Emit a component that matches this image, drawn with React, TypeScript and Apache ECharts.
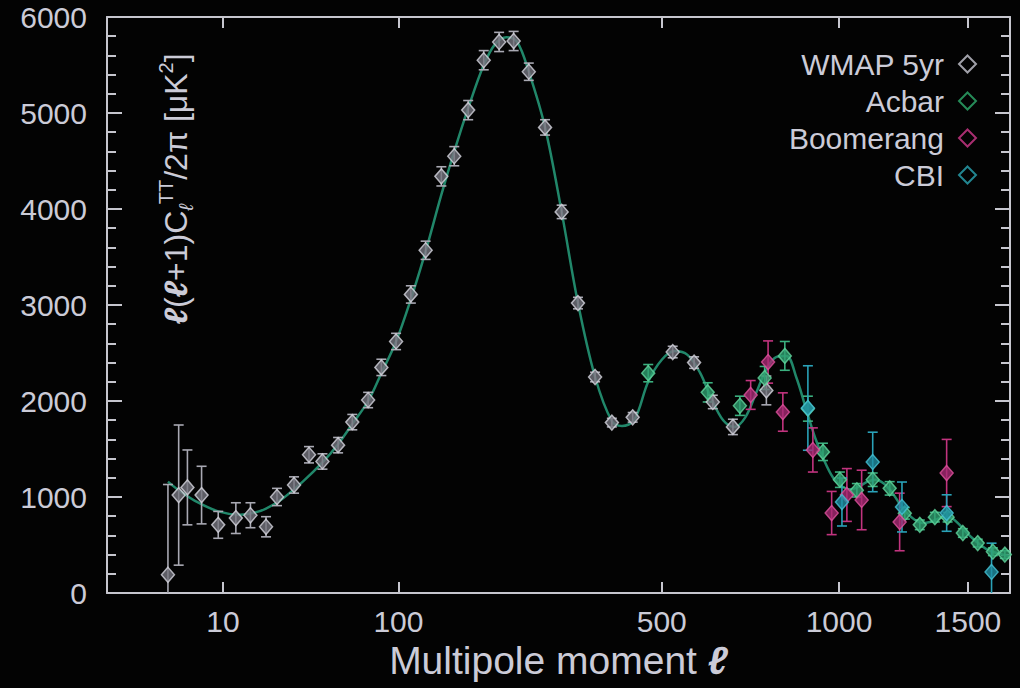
import { useEffect, useRef } from "react";
import * as echarts from "echarts";

// ---------- data (multipole ℓ, D_ℓ in μK², symmetric 1σ error) ----------
const wmapL = [2, 3, 4, 6, 9, 13, 17, 22, 26, 33, 40, 47, 56, 65, 76, 86, 98, 111, 125, 141, 155, 171, 190, 210, 230, 252, 277, 304, 332, 363, 395, 437, 525, 576, 623, 676, 770];
const wmapD = [190, 1020, 1100, 1020, 710, 780, 810, 690, 1000, 1125, 1440, 1370, 1540, 1780, 2010, 2350, 2620, 3110, 3570, 4340, 4550, 5030, 5550, 5740, 5750, 5430, 4850, 3970, 3020, 2250, 1775, 1830, 2510, 2400, 1990, 1730, 2110];
const wmapErr = [940, 730, 390, 300, 140, 160, 130, 105, 90, 85, 85, 80, 80, 80, 80, 85, 85, 90, 95, 100, 100, 100, 100, 100, 100, 90, 80, 70, 60, 50, 45, 50, 60, 60, 70, 80, 150];

const acbarL = [470, 610, 695, 765, 825, 897, 946, 1003, 1062, 1119, 1182, 1240, 1299, 1360, 1413, 1478, 1543, 1611, 1666];
const acbarD = [2290, 2090, 1950, 2240, 2470, 1920, 1470, 1180, 1070, 1180, 1090, 830, 710, 790, 790, 625, 520, 430, 400];
const acbarErr = [90, 100, 100, 120, 150, 130, 90, 80, 70, 70, 70, 60, 50, 50, 50, 45, 40, 40, 40];

const boomL = [725, 775, 819, 913, 975, 1027, 1079, 1220, 1409];
const boomD = [2063, 2406, 1885, 1490, 833, 1021, 969, 740, 1250];
const boomErr = [150, 220, 200, 230, 225, 275, 310, 300, 350];

const cbiL = [897, 1010, 1119, 1229, 1409, 1605];
const cbiD = [1927, 948, 1365, 896, 833, 219];
const cbiErr = [440, 250, 310, 260, 190, 300];

const theoryL = [2, 3, 5, 9, 14, 18, 22, 28, 37, 47, 56, 65, 76, 86, 98, 111, 125, 141, 155, 171, 190, 205, 220, 235, 252, 277, 304, 332, 363, 395, 415, 440, 470, 500, 530, 560, 590, 620, 650, 680, 710, 740, 770, 800, 830, 860, 890, 920, 950, 980, 1010, 1040, 1070, 1100, 1130, 1160, 1190, 1220, 1250, 1280, 1310, 1340, 1370, 1400, 1430, 1460, 1490, 1520, 1550, 1580, 1610, 1640, 1690];
const theoryD = [1160, 1070, 960, 850, 815, 835, 880, 980, 1160, 1360, 1550, 1760, 2000, 2290, 2620, 3060, 3560, 4150, 4600, 5050, 5500, 5720, 5790, 5740, 5430, 4850, 3970, 3020, 2250, 1790, 1740, 1800, 2200, 2430, 2520, 2480, 2300, 2020, 1800, 1730, 1830, 2080, 2330, 2460, 2470, 2250, 1930, 1620, 1380, 1200, 1110, 1080, 1110, 1160, 1180, 1140, 1050, 930, 830, 760, 730, 740, 770, 790, 780, 720, 640, 570, 510, 460, 430, 410, 380];

const xTickLabels = [10, 100, 500, 1000, 1500];
const lMax = 1690;
const yMin = 0;
const yMax = 6000;
const yInterval = 1000;

// ---------- scale: the ℓ axis is drawn on ℓ^0.4 ----------
const POW = 0.4;
const toU = (l: number) => Math.pow(l, POW);
const fromU = (u: number) => Math.pow(u, 1 / POW);

const TEXT = "#cbcbd7";
const AXIS = "#c6c6ce";
const FONT = "'Liberation Sans', Arial, Helvetica, sans-serif";

const datasets = [
  { name: "WMAP 5yr", l: wmapL, d: wmapD, e: wmapErr, fill: "#74747e", stroke: "#d6d6de", bar: "#a9a9b3", legend: "#c8c8d2" },
  { name: "Acbar", l: acbarL, d: acbarD, e: acbarErr, fill: "#2f9f70", stroke: "#62d49c", bar: "#3bb07f", legend: "#2fae6e" },
  { name: "Boomerang", l: boomL, d: boomD, e: boomErr, fill: "#a82a74", stroke: "#e0529e", bar: "#c2347f", legend: "#d23a8c" },
  { name: "CBI", l: cbiL, d: cbiD, e: cbiErr, fill: "#1f8ea3", stroke: "#46c3d6", bar: "#2aa2b8", legend: "#2aa6b4" },
];

export default function App() {
  const ref = useRef<HTMLDivElement>(null);
  useEffect(() => {
    if (!ref.current) return;
    const chart = echarts.init(ref.current, null, { renderer: "svg" });

    const errSeries = datasets.map((s) => ({
      type: "custom",
      name: s.name + " error",
      xAxisIndex: 0,
      yAxisIndex: 0,
      clip: true,
      silent: true,
      z: 3,
      data: s.l.map((l, i) => [toU(l), s.d[i] - s.e[i], s.d[i] + s.e[i]]),
      encode: { x: 0, y: [1, 2] },
      renderItem: (_params: any, api: any) => {
        const x = api.value(0);
        const lo = api.coord([x, api.value(1)]);
        const hi = api.coord([x, api.value(2)]);
        const w = 5;
        const style = { stroke: s.bar, lineWidth: 1.6 };
        return {
          type: "group",
          children: [
            { type: "line", shape: { x1: lo[0], y1: lo[1], x2: hi[0], y2: hi[1] }, style },
            { type: "line", shape: { x1: lo[0] - w, y1: lo[1], x2: lo[0] + w, y2: lo[1] }, style },
            { type: "line", shape: { x1: hi[0] - w, y1: hi[1], x2: hi[0] + w, y2: hi[1] }, style },
          ],
        };
      },
    }));

    const pointSeries = datasets.map((s) => ({
      type: "scatter",
      name: s.name,
      xAxisIndex: 0,
      yAxisIndex: 0,
      z: 4,
      symbol: "diamond",
      symbolSize: [13, 15],
      itemStyle: { color: s.fill, borderColor: s.stroke, borderWidth: 1.5 },
      data: s.l.map((l, i) => [toU(l), s.d[i]]),
    }));

    const uMax = toU(lMax);
    const tickU = xTickLabels.map(toU);
    const xCommon = {
      type: "value",
      min: 0,
      max: uMax,
      splitLine: { show: false },
      axisLine: { show: true, onZero: false, lineStyle: { color: AXIS, width: 2 } },
      axisTick: { show: true, inside: true, length: 11, customValues: tickU, lineStyle: { color: AXIS, width: 2 } },
    };
    const yCommon = {
      type: "value",
      min: yMin,
      max: yMax,
      interval: yInterval,
      splitLine: { show: false },
      axisLine: { show: true, onZero: false, lineStyle: { color: AXIS, width: 2 } },
      axisTick: { show: true, inside: true, length: 15, lineStyle: { color: AXIS, width: 2 } },
      minorTick: { show: true, splitNumber: 5, length: 9, lineStyle: { color: AXIS, width: 2 } },
    };

    chart.setOption({
      animation: false,
      backgroundColor: "#030303",
      grid: { left: 107, right: 10, top: 17, bottom: 95, containLabel: false },
      xAxis: [
        {
          ...xCommon,
          position: "bottom",
          axisLabel: {
            customValues: tickU,
            formatter: (v: number) => String(Math.round(fromU(v))),
            color: TEXT,
            fontSize: 30,
            fontFamily: FONT,
            margin: 13,
          },
          name: "Multipole moment {l|ℓ}",
          nameLocation: "middle",
          nameGap: 48,
          nameTextStyle: {
            color: TEXT,
            fontSize: 39,
            fontFamily: FONT,
            rich: { l: { color: TEXT, fontSize: 39, fontStyle: "italic", fontWeight: "bold", fontFamily: FONT } },
          },
        },
        { ...xCommon, position: "top", axisLabel: { show: false } },
      ],
      yAxis: [
        {
          ...yCommon,
          position: "left",
          axisLabel: {
            color: TEXT,
            fontSize: 30,
            fontFamily: FONT,
            margin: 20,
            formatter: (v: number) => String(v),
          },
        },
        { ...yCommon, position: "right", axisLabel: { show: false } },
      ],
      legend: {
        orient: "vertical",
        right: 38,
        top: 44,
        align: "right",
        itemGap: 7,
        itemWidth: 17,
        itemHeight: 17,
        selectedMode: false,
        textStyle: { color: TEXT, fontSize: 30, fontFamily: FONT, padding: [0, 10, 0, 0] },
        data: datasets.map((s) => ({
          name: s.name,
          icon: "diamond",
          itemStyle: { color: "rgba(0,0,0,0)", borderColor: s.legend, borderWidth: 2 },
        })),
      },
      graphic: [
        {
          type: "text",
          x: 176,
          y: 189,
          rotation: Math.PI / 2,
          silent: true,
          style: {
            text: "{it|ℓ}({it|ℓ}+1)C{sub|ℓ}{sup|TT}/2π [μK{sup|2}]",
            fill: TEXT,
            fontSize: 32,
            fontFamily: FONT,
            align: "center",
            verticalAlign: "middle",
            rich: {
              it: { fill: TEXT, fontSize: 32, fontStyle: "italic", fontWeight: "bold", fontFamily: FONT, lineHeight: 40 },
              sub: { fill: TEXT, fontSize: 20, fontStyle: "italic", fontFamily: FONT, verticalAlign: "bottom", lineHeight: 40 },
              sup: { fill: TEXT, fontSize: 20, fontFamily: FONT, verticalAlign: "top", lineHeight: 40 },
            },
          },
        },
      ],
      series: [
        {
          type: "line",
          name: "Theory",
          xAxisIndex: 0,
          yAxisIndex: 0,
          z: 2,
          smooth: 0.35,
          symbol: "none",
          showSymbol: false,
          silent: true,
          lineStyle: { color: "#21876a", width: 2.5 },
          data: theoryL.map((l, i) => [toU(l), theoryD[i]]),
        },
        ...errSeries,
        ...pointSeries,
      ],
    } as any);

    return () => chart.dispose();
  }, []);

  return (
    <div
      ref={ref}
      style={{ position: "fixed", left: 0, top: 0, width: 1020, height: 688, background: "#030303" }}
    />
  );
}
